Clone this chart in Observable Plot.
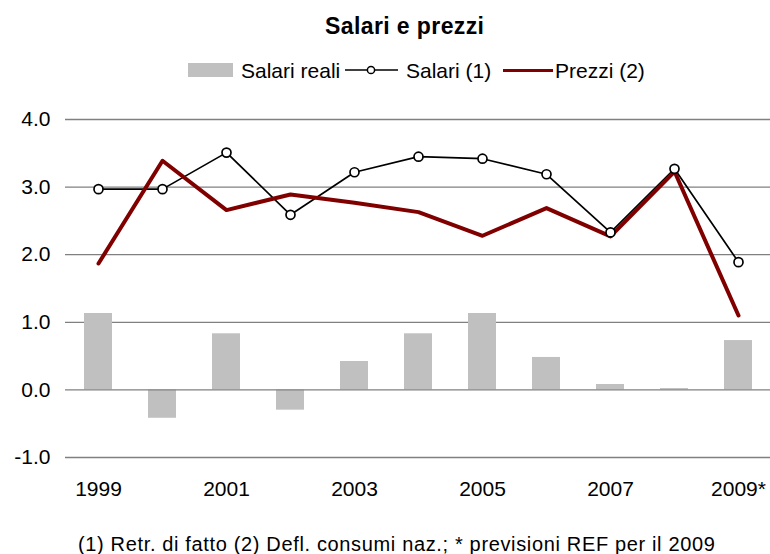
<!DOCTYPE html>
<html>
<head>
<meta charset="utf-8">
<script src="https://cdn.jsdelivr.net/npm/d3@7"></script>
<script src="https://cdn.jsdelivr.net/npm/@observablehq/plot@0.6"></script>
<style>
  html, body { margin: 0; padding: 0; background: #fff; }
  body { font-family: "Liberation Sans", Arial, sans-serif; color: #000; }
  #wrap { position: relative; width: 770px; height: 554px; overflow: hidden; }
  .abs { position: absolute; white-space: nowrap; line-height: 1; }
  #title { top: 15px; left: 325px; font-weight: bold; font-size: 23px; letter-spacing: 0.4px; }
  .lg { top: 60px; font-size: 21px; }
  #caption { top: 534px; left: 78px; font-size: 20px; letter-spacing: 0.65px; }
  #chart { position: absolute; top: 95px; left: 0; }
</style>
</head>
<body>
<div id="wrap">
  <div id="title" class="abs">Salari e prezzi</div>
  <div class="abs" style="left:188px;top:63px;width:45px;height:14px;background:#c0c0c0"></div>
  <div class="abs lg" style="left:241px">Salari reali</div>
  <svg class="abs" style="left:345px;top:62px" width="53" height="16">
    <line x1="0" x2="53" y1="8" y2="8" stroke="#000" stroke-width="1.7"/>
    <circle cx="26" cy="8" r="3.6" fill="#fff" stroke="#000" stroke-width="1.5"/>
  </svg>
  <div class="abs lg" style="left:406px">Salari (1)</div>
  <div class="abs" style="left:503px;top:69px;width:50px;height:3px;background:#800000"></div>
  <div class="abs lg" style="left:555px">Prezzi (2)</div>
  <div id="chart"></div>
  <div id="caption" class="abs">(1) Retr. di fatto (2) Defl. consumi naz.; * previsioni REF per il 2009</div>
</div>
<script>
const years = ["1999","2000","2001","2002","2003","2004","2005","2006","2007","2008","2009*"];
const salariReali = [1.13, -0.42, 0.83, -0.30, 0.42, 0.83, 1.13, 0.48, 0.08, 0.02, 0.73];
const salari = [2.97, 2.97, 3.51, 2.59, 3.22, 3.45, 3.42, 3.19, 2.33, 3.27, 1.89];
const prezzi = [1.87, 3.39, 2.66, 2.89, 2.77, 2.63, 2.28, 2.69, 2.27, 3.23, 1.10];
const yTicks = [-1, 0, 1, 2, 3, 4];
const xTickLabels = ["1999","2001","2003","2005","2007","2009*"];

const rows = years.map((year, i) => ({year, reali: salariReali[i], salari: salari[i], prezzi: prezzi[i]}));

const chart = Plot.plot({
  width: 770,
  height: 420,
  marginLeft: 65,
  marginRight: 0,
  marginTop: 24,
  marginBottom: 58,
  x: {domain: years, paddingInner: 0.57, paddingOuter: 0.285, axis: null, label: null},
  y: {domain: [-1, 4], axis: null, label: null},
  style: {fontFamily: "'Liberation Sans', Arial, sans-serif", fontSize: "21px", color: "#000", background: "transparent"},
  marks: [
    Plot.ruleY(yTicks.filter(d => d !== 0), {stroke: "#808080", strokeWidth: 1.3}),
    Plot.barY(rows, {x: "year", y: "reali", fill: "#c0c0c0"}),
    Plot.ruleY([0], {stroke: "#808080", strokeWidth: 1.3}),
    Plot.axisY({ticks: yTicks, tickFormat: d => d.toFixed(1), tickSize: 0, tickPadding: 15, fontSize: 21}),
    Plot.axisX({ticks: xTickLabels, tickSize: 0, tickPadding: 24, fontSize: 21}),
    Plot.line(rows, {x: "year", y: "salari", stroke: "#000", strokeWidth: 1.7}),
    Plot.line(rows, {x: "year", y: "prezzi", stroke: "#800000", strokeWidth: 4}),
    Plot.dot(rows, {x: "year", y: "salari", r: 4.5, fill: "#fff", stroke: "#000", strokeWidth: 1.7})
  ]
});
document.getElementById("chart").appendChild(chart);
</script>
</body>
</html>
